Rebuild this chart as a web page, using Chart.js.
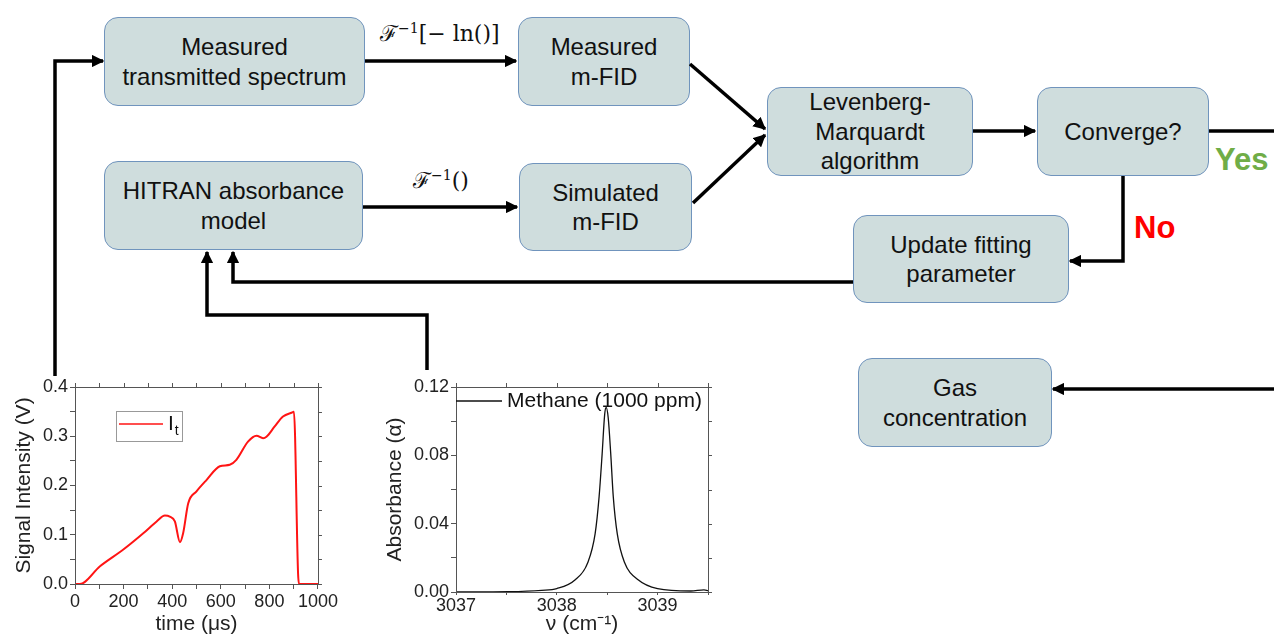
<!DOCTYPE html>
<html lang="en">
<head>
<meta charset="UTF-8" />
<title>m-FID fitting flow</title>
<script src="https://cdn.jsdelivr.net/npm/chart.js"></script>
<style>
  body{margin:0;background:#fff;font-family:"Liberation Sans",Arial,Helvetica,sans-serif}
  #stage{position:relative;width:1274px;height:637px;overflow:hidden;background:#fff}
  .box{position:absolute;box-sizing:border-box;background:#cfdddd;border:1.5px solid #7094bd;border-radius:14px;
       display:flex;align-items:center;justify-content:center;text-align:center;font-size:24px;line-height:29.5px;color:#111}
  svg{position:absolute;left:0;top:0}
  .op{position:absolute;font-family:"DejaVu Serif",serif;font-size:22px;color:#111;white-space:nowrap}
  .op sup{font-size:14px}
  .tag{position:absolute;font-weight:bold;font-size:31px;line-height:30px}
  canvas{position:absolute}
</style>
</head>
<body>
<div id="stage">
  <!-- flow boxes -->
  <div class="box" style="left:104px;top:17px;width:261px;height:89px">Measured<br>transmitted spectrum</div>
  <div class="box" style="left:518px;top:17px;width:172px;height:89px">Measured<br>m-FID</div>
  <div class="box" style="left:104px;top:161px;width:259px;height:89px">HITRAN absorbance<br>model</div>
  <div class="box" style="left:519px;top:163px;width:173px;height:88px">Simulated<br>m-FID</div>
  <div class="box" style="left:767px;top:87px;width:206px;height:89px">Levenberg-<br>Marquardt<br>algorithm</div>
  <div class="box" style="left:1037px;top:87px;width:172px;height:89px">Converge?</div>
  <div class="box" style="left:853px;top:215px;width:216px;height:88px">Update fitting<br>parameter</div>
  <div class="box" style="left:858px;top:358px;width:194px;height:89px">Gas<br>concentration</div>

  <!-- connectors -->
  <svg width="1274" height="637">
    <defs>
      <marker id="ah" viewBox="0 0 10 10" refX="9" refY="5" markerWidth="3.6" markerHeight="3.6" orient="auto">
        <path d="M0,0 L10,5 L0,10 z" fill="#000"/>
      </marker>
    </defs>
    <g fill="none" stroke="#000" stroke-width="3.5" stroke-linejoin="miter">
      <polyline marker-end="url(#ah)" points="55,376 55,61 103,61"/>
      <polyline marker-end="url(#ah)" points="365,61 516,61"/>
      <polyline marker-end="url(#ah)" points="363,207 517,207"/>
      <polyline marker-end="url(#ah)" points="690,64 765,129"/>
      <polyline marker-end="url(#ah)" points="693,203 765,135"/>
      <polyline marker-end="url(#ah)" points="973,131 1035,131"/>
      <polyline points="1209,131 1280,131"/>
      <polyline marker-end="url(#ah)" points="1123,176 1123,261 1070,261"/>
      <polyline marker-end="url(#ah)" points="1280,389 1053,389"/>
      <polyline marker-end="url(#ah)" points="853,282 233,282 233,252"/>
      <polyline marker-end="url(#ah)" points="427,370 427,315 207,315 207,252"/>
    </g>
  </svg>

  <div class="op" style="left:380px;top:17px">&#x2131;<sup>&minus;1</sup>[&minus; ln()]</div>
  <div class="op" style="left:413px;top:164px">&#x2131;<sup>&minus;1</sup>()</div>
  <div class="tag" style="left:1215px;top:145px;color:#70ad47">Yes</div>
  <div class="tag" style="left:1134px;top:213px;color:#ff0000">No</div>

  <canvas id="signalChart" width="340" height="267" style="left:0;top:370px"></canvas>
  <canvas id="absChart" width="340" height="267" style="left:375px;top:370px"></canvas>
</div>

<script>
// transmitted intensity vs time
const timeUs  = [0, 20, 103, 199, 281, 336, 370, 390, 411, 432, 445, 466, 500, 541, 596, 637, 664, 712, 747, 774, 788, 822, 856, 897, 901, 918, 922, 1000];
const signalV = [0, 0, 0.036, 0.070, 0.103, 0.127, 0.139, 0.137, 0.127, 0.085, 0.103, 0.164, 0.188, 0.211, 0.239, 0.242, 0.252, 0.289, 0.301, 0.296, 0.299, 0.320, 0.340, 0.349, 0.350, 0.022, 0, 0];

// HITRAN methane line
const nuCm  = [3037, 3037.52, 3037.85, 3038.0, 3038.18, 3038.31, 3038.38, 3038.42, 3038.45, 3038.475, 3038.49, 3038.51, 3038.535, 3038.56, 3038.6, 3038.67, 3038.81, 3039.0, 3039.33, 3039.46, 3039.5];
const alpha = [0, 0.0002, 0.001, 0.002, 0.007, 0.0176, 0.034, 0.056, 0.081, 0.104, 0.108, 0.102, 0.081, 0.056, 0.034, 0.0176, 0.007, 0.002, 0.0006, 0.0012, 0.0008];

const AXIS = '#555';
const TXT = '#222';
const FAM = '"Liberation Sans", Arial, sans-serif';
const TICK_FONT = {family:FAM, size:18};
const TITLE_FONT = {family:FAM, size:21};

// closed frame + outward ticks on top/right, plus a hand drawn legend
const framePlugin = {
  id:'frame',
  afterDraw(chart, args, opts){
    const {ctx, chartArea:a, scales:{x, y}} = chart;
    ctx.save();
    ctx.strokeStyle = AXIS; ctx.lineWidth = 1;
    ctx.strokeRect(Math.round(a.left)+0.5, Math.round(a.top)+0.5, Math.round(a.right-a.left), Math.round(a.bottom-a.top));
    ctx.beginPath();
    x.ticks.forEach((t, i) => { const px = Math.round(x.getPixelForTick(i))+0.5; ctx.moveTo(px, a.top); ctx.lineTo(px, a.top-4); });
    y.ticks.forEach((t, i) => { const py = Math.round(y.getPixelForTick(i))+0.5; ctx.moveTo(a.right, py); ctx.lineTo(a.right+4, py); });
    ctx.stroke();

    const lg = opts.legend;
    if (lg) {
      const ds = chart.data.datasets[0];
      if (lg.box) {
        ctx.strokeStyle = '#999';
        ctx.strokeRect(lg.box[0]+0.5, lg.box[1]+0.5, lg.box[2], lg.box[3]);
      }
      ctx.strokeStyle = ds.borderColor; ctx.lineWidth = lg.lw;
      ctx.beginPath(); ctx.moveTo(lg.x0, lg.y); ctx.lineTo(lg.x1, lg.y); ctx.stroke();
      ctx.fillStyle = '#111'; ctx.textBaseline = 'middle';
      ctx.font = lg.size + 'px ' + FAM;
      ctx.fillText(ds.label, lg.x1 + 5, lg.y);
      if (lg.sub) {
        const w = ctx.measureText(ds.label).width;
        ctx.font = Math.round(lg.size*0.65) + 'px ' + FAM;
        ctx.fillText(lg.sub, lg.x1 + 6 + w, lg.y + 7);
      }
    }
    ctx.restore();
  }
};

function axisBase(){
  return {
    type:'linear',
    border:{display:true, color:AXIS, width:1},
    grid:{drawOnChartArea:false, drawTicks:true, tickLength:5, color:AXIS},
    ticks:{font:TICK_FONT, color:TXT, autoSkip:false, maxRotation:0, padding:2},
    title:{display:true, font:TITLE_FONT, color:TXT, padding:{top:0, bottom:0}}
  };
}

const sx = axisBase(), sy = axisBase();
Object.assign(sx, {min:0, max:1000, afterFit(s){ s.height = 53; }});
sx.ticks = {...sx.ticks, stepSize:100, callback:v => v % 200 === 0 ? v : ''};
sx.title = {...sx.title, text:'time (\u03bcs)'};
Object.assign(sy, {min:0, max:0.4, afterFit(s){ s.width = 63; }});
sy.ticks = {...sy.ticks, stepSize:0.05, callback:v => Math.abs(v*10 - Math.round(v*10)) < 1e-6 ? v.toFixed(1) : ''};
sy.title = {...sy.title, text:'Signal Intensity (V)', padding:{top:0, bottom:4}};

new Chart(document.getElementById('signalChart'), {
  type:'line',
  data:{datasets:[{label:'I', data:timeUs.map((t, i) => ({x:t, y:signalV[i]})),
    borderColor:'#ff1414', borderWidth:2, pointRadius:0, cubicInterpolationMode:'monotone'}]},
  options:{
    responsive:false, animation:false, events:[],
    layout:{padding:{top:17, right:22, left:12, bottom:0}},
    scales:{x:sx, y:sy},
    plugins:{legend:{display:false}, tooltip:{enabled:false},
      frame:{legend:{box:[116, 41, 66, 30], x0:119, x1:163, y:54, lw:1.5, size:21, sub:'t'}}}
  },
  plugins:[framePlugin]
});

const ax = axisBase(), ay = axisBase();
Object.assign(ax, {min:3037, max:3039.5, afterFit(s){ s.height = 45; }});
ax.grid = {...ax.grid, tickLength:3};
ax.ticks = {...ax.ticks, stepSize:0.5, padding:0, callback:v => Number.isInteger(v) ? v : ''};
ax.title = {...ax.title, text:'\u03bd (cm\u207b\u00b9)'};
Object.assign(ay, {min:0, max:0.12, afterFit(s){ s.width = 73; }});
ay.ticks = {...ay.ticks, stepSize:0.02, callback:v => Math.round(v*100) % 4 === 0 ? v.toFixed(2) : ''};
ay.title = {...ay.title, text:'Absorbance (\u03b1)', padding:{top:0, bottom:2}};

new Chart(document.getElementById('absChart'), {
  type:'line',
  data:{datasets:[{label:'Methane (1000 ppm)', data:nuCm.map((n, i) => ({x:n, y:alpha[i]})),
    borderColor:'#111', borderWidth:1.3, pointRadius:0, cubicInterpolationMode:'monotone'}]},
  options:{
    responsive:false, animation:false, events:[],
    layout:{padding:{top:17, right:7, left:8, bottom:0}},
    scales:{x:ax, y:ay},
    plugins:{legend:{display:false}, tooltip:{enabled:false},
      frame:{legend:{x0:81, x1:127, y:31, lw:1.3, size:21}}}
  },
  plugins:[framePlugin]
});
</script>
</body>
</html>
